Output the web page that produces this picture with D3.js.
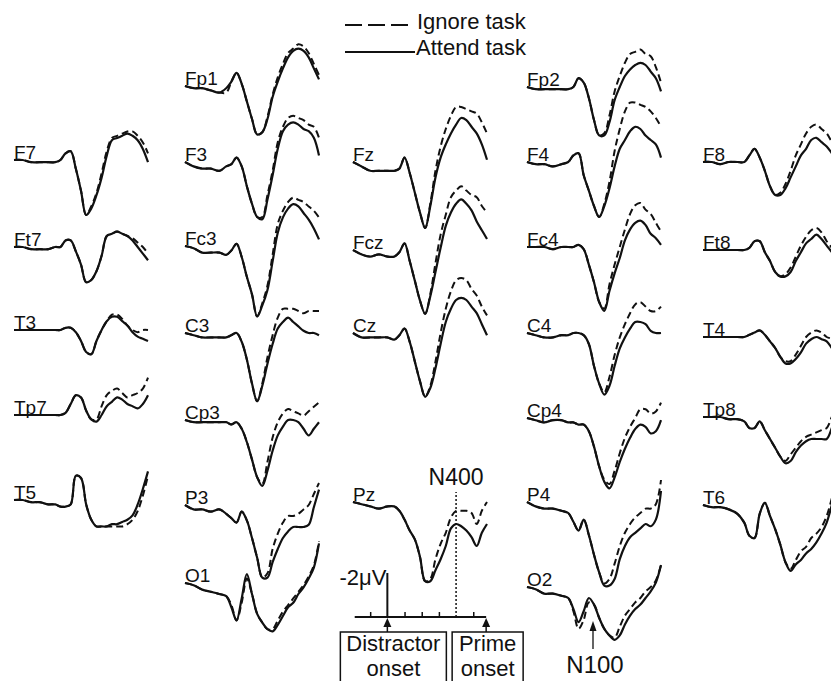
<!DOCTYPE html>
<html>
<head>
<meta charset="utf-8">
<script src="https://cdn.jsdelivr.net/npm/d3@7"></script>
<style>
body{margin:0;background:#fff;}
svg text{font-family:"Liberation Sans",Arial,sans-serif;fill:#111;}
</style>
</head>
<body>
<svg id="chart" width="831" height="681"></svg>
<script>
// sample times (ms) shared by every waveform, values in microvolts (negative is plotted up)
const times = [-200,-150,-100,-50,0,40,70,100,130,160,190,220,250,280,310,340,370,400,430,460,490,520,550,580];

// left temporal column
const attendF7  = [0,0,0.1,0.1,0.1,0.1,0,-0.3,-0.4,0.4,1.4,2.5,2.2,1.6,0.8,-0.2,-0.9,-1.0,-1.1,-1.2,-1.1,-0.9,-0.5,0.1];
const ignoreF7  = [0,0,0.1,0.1,0.1,0.1,0,-0.3,-0.4,0.4,1.4,2.5,2.1,1.5,0.6,-0.4,-1.0,-1.1,-1.2,-1.3,-1.3,-1.1,-0.8,-0.3];
const attendFt7 = [0,0,0.1,0.1,0.1,0,0,-0.3,-0.3,0.2,0.8,1.6,1.5,1.1,0.4,-0.5,-0.6,-0.7,-0.6,-0.5,-0.3,0,0.3,0.6];
const ignoreFt7 = [0,0,0.1,0.1,0.1,0,0,-0.3,-0.3,0.2,0.8,1.6,1.5,1.1,0.4,-0.5,-0.6,-0.7,-0.6,-0.5,-0.4,-0.2,0,0.3];
const attendT3  = [0,0,0,0,0,0,0,-0.1,-0.1,0.1,0.5,1.0,1.1,0.5,0,-0.4,-0.6,-0.6,-0.4,-0.2,0.1,0.3,0.4,0.5];
const ignoreT3  = [0,0,0,0,0,0,0,-0.1,-0.1,0.1,0.5,1.0,1.1,0.5,0,-0.4,-0.7,-0.7,-0.5,-0.2,0,0.1,0,0];
const attendTp7 = [0,0,0,0,0,0,0,-0.1,-0.5,-0.9,-0.8,-0.2,0.2,0.3,0,-0.4,-0.6,-0.8,-0.7,-0.5,-0.4,-0.3,-0.5,-0.9];
const ignoreTp7 = [0,0,0,0,0,0,0,-0.1,-0.5,-0.9,-0.8,-0.2,0.2,0.2,-0.4,-0.9,-1.1,-1.2,-1.0,-0.8,-0.9,-1.0,-1.2,-1.7];
const attendT5  = [0,0,0.1,0.1,0.2,0.2,0.3,0.3,0.2,-1.1,-1.0,0.2,0.9,1.2,1.2,1.2,1.1,1.1,1.0,0.9,0.7,0.2,-0.5,-1.3];
const ignoreT5  = [0,0,0.1,0.1,0.2,0.2,0.3,0.3,0.2,-1.1,-1.0,0.2,0.9,1.2,1.2,1.2,1.2,1.2,1.2,1.1,0.9,0.5,-0.2,-1.1];

// left column
const attendFp1 = [0,0.1,0.1,0.2,0.3,0.1,-0.2,-0.6,-0.1,0.7,1.5,2.2,2.1,1.5,0.5,-0.2,-0.8,-1.3,-1.6,-1.7,-1.6,-1.3,-0.8,-0.3];
const ignoreFp1 = [0,0.1,0.1,0.2,0.3,0.3,-0.2,-0.6,-0.1,0.7,1.5,2.2,2.1,1.4,0.4,-0.4,-1.0,-1.5,-1.7,-1.9,-1.8,-1.5,-1.0,-0.5];
const attendF3  = [0,0.2,0.3,0.3,0.4,0.2,0.1,-0.2,0.2,1.1,1.9,2.5,2.6,1.7,0.6,-0.6,-1.4,-1.7,-1.8,-1.7,-1.5,-1.4,-1.1,-0.3];
const ignoreF3  = [0,0.2,0.3,0.3,0.4,0.2,0.1,-0.2,0.2,1.1,1.9,2.5,2.5,1.5,0.4,-0.9,-1.6,-2.0,-2.1,-2.0,-1.9,-1.7,-1.6,-1.1];
const attendFc3 = [0,0.1,0.3,0.3,0.3,0.4,0.2,-0.1,0.5,1.4,2.2,3.2,2.7,2.0,0.7,-0.6,-1.3,-1.7,-1.9,-1.8,-1.5,-1.2,-0.8,-0.3];
const ignoreFc3 = [0,0.1,0.3,0.3,0.3,0.4,0.2,-0.1,0.5,1.4,2.2,3.2,2.6,1.8,0.4,-1.0,-1.6,-2.0,-2.2,-2.1,-2.0,-1.8,-1.6,-1.3];
const attendC3  = [0,0.1,0.2,0.2,0.2,0.2,0.1,0,0.4,1.2,2.3,3.1,2.4,1.4,0.5,-0.2,-0.5,-0.7,-0.5,-0.3,-0.1,0,0,0.1];
const ignoreC3  = [0,0.1,0.2,0.2,0.2,0.2,0.1,0,0.4,1.2,2.3,3.1,2.3,1.1,0.1,-0.7,-1.1,-1.1,-1.1,-1.0,-0.9,-1.0,-1.0,-1.0];
const attendCp3 = [0,0.1,0.1,0.1,0.1,0.1,0.2,0.1,0.4,1.0,1.8,2.6,3.0,2.3,1.4,0.7,0.3,0,0,0.1,0.4,0.7,0.4,0.1];
const ignoreCp3 = [0,0.1,0.1,0.1,0.1,0.1,0.2,0.1,0.4,1.0,1.8,2.6,2.9,1.9,0.8,0.1,-0.3,-0.5,-0.4,-0.3,-0.2,-0.4,-0.6,-0.8];
const attendP3  = [0,0.2,0.2,0.3,0.2,0.4,0.6,0.8,0.3,0.7,1.5,2.4,3.3,3.3,2.6,2.0,1.5,1.2,1.0,1.0,1.0,0.9,0.1,-0.7];
const ignoreP3  = [0,0.2,0.2,0.3,0.2,0.4,0.6,0.8,0.3,0.7,1.5,2.4,3.3,3.1,2.0,1.3,0.8,0.5,0.5,0.4,0.2,0,-0.5,-1.0];
const attendO1  = [0,0.1,0.3,0.4,0.5,0.6,1.1,1.7,0.7,-0.4,0.5,1.4,1.8,2.1,2.2,1.9,1.5,1.1,0.9,0.5,0.2,-0.2,-0.7,-1.8];
const ignoreO1  = [0,0.1,0.3,0.4,0.5,0.6,1.0,1.7,0.9,-0.2,0.5,1.4,1.8,2.1,2.1,1.7,1.3,1.0,0.7,0.4,0.1,-0.3,-0.8,-1.9];

// midline
const attendFz  = [0,0.2,0.4,0.4,0.4,0.4,0.3,-0.2,0.5,1.4,2.3,3.0,2.0,0.7,-0.2,-0.8,-1.3,-1.7,-2.0,-1.9,-1.6,-1.3,-0.8,-0.1];
const ignoreFz  = [0,0.2,0.4,0.4,0.4,0.4,0.3,-0.2,0.5,1.4,2.3,3.0,1.9,0.4,-0.7,-1.5,-2.1,-2.5,-2.5,-2.4,-2.3,-2.2,-1.8,-1.3];
const attendFcz = [0,0.2,0.3,0.2,0.3,0.3,0.1,-0.3,0.5,1.4,2.3,2.9,2.1,1.0,-0.1,-1.1,-1.7,-2.1,-2.3,-2.1,-1.8,-1.3,-0.9,-0.5];
const ignoreFcz = [0,0.2,0.3,0.2,0.3,0.3,0.1,-0.3,0.5,1.4,2.3,2.9,2.0,0.6,-0.7,-1.6,-2.4,-2.7,-2.9,-2.7,-2.5,-2.4,-2.0,-1.7];
const attendCz  = [0,0.2,0.2,0.2,0.2,0.3,0.1,-0.2,0.4,1.3,2.2,2.9,2.5,1.6,0.5,-0.5,-1.1,-1.5,-1.6,-1.5,-1.2,-0.9,-0.4,0.1];
const ignoreCz  = [0,0.2,0.2,0.2,0.2,0.3,0.1,-0.2,0.4,1.3,2.2,2.9,2.4,1.3,0,-1.1,-1.9,-2.4,-2.5,-2.4,-2.0,-1.7,-1.2,-0.8];
const attendPz  = [0,0.1,0.2,0.3,0.2,0.2,0.4,0.8,1.3,1.7,2.5,3.6,3.6,3.1,2.6,2.0,1.2,1.0,1.1,1.3,1.6,2.0,1.4,1.0];
const ignorePz  = [0,0.1,0.2,0.3,0.2,0.2,0.4,0.8,1.3,1.7,2.5,3.6,3.5,2.6,1.9,1.4,0.7,0.4,0.4,0.4,0.5,1.0,0.4,0];

// right column
const attendFp2 = [0,0.1,0.1,0.1,0.1,0.1,0,-0.4,-0.2,0.5,1.5,2.2,2.2,1.6,0.6,0,-0.5,-0.8,-1.0,-1.1,-1.0,-0.7,-0.4,0.2];
const ignoreFp2 = [0,0.1,0.1,0.1,0.1,0.1,0,-0.4,-0.2,0.5,1.5,2.2,2.1,1.3,0.2,-0.5,-1.1,-1.5,-1.6,-1.7,-1.5,-1.4,-0.9,-0.2];
const attendF4  = [0,0.1,0.1,0.2,0.1,0,-0.3,-0.4,0.6,1.3,2.0,2.5,2.0,1.2,0.2,-0.6,-1.0,-1.4,-1.6,-1.5,-1.2,-1.0,-0.8,-0.2];
const ignoreF4  = [0,0.1,0.1,0.2,0.1,0,-0.3,-0.4,0.6,1.3,2.0,2.5,1.9,0.9,-0.5,-1.5,-2.3,-2.7,-2.7,-2.6,-2.5,-2.3,-2.0,-1.6];
const attendFc4 = [0,0,0,0.1,0,0,0,-0.1,0.1,0.8,1.6,2.5,2.9,2.0,1.2,0.5,-0.3,-0.8,-1.1,-1.2,-1.0,-0.6,-0.4,-0.1];
const ignoreFc4 = [0,0,0,0.1,0,0,0,-0.1,0.1,0.8,1.6,2.5,2.8,1.7,0.8,0,-0.8,-1.5,-1.9,-2.0,-1.7,-1.5,-1.1,-0.7];
const attendC4  = [0,0.1,0.2,0.2,0.1,0.1,0,0,0.1,0.5,1.5,2.3,2.8,2.4,1.5,0.7,0.2,-0.2,-0.5,-0.5,-0.4,-0.1,0,0];
const ignoreC4  = [0,0.1,0.2,0.2,0.1,0.1,0,0,0.1,0.5,1.5,2.3,2.7,2.0,1.0,0.2,-0.4,-0.9,-1.3,-1.4,-1.2,-1.0,-1.0,-1.2];
const attendCp4 = [0,0.1,0.2,0.1,0.1,0.2,0.2,0.3,0.3,0.6,1.3,2.2,2.9,3.2,2.7,2.0,1.4,0.9,0.5,0.3,0.4,0.7,0.6,0.1];
const ignoreCp4 = [0,0.1,0.2,0.1,0.1,0.2,0.2,0.3,0.3,0.6,1.3,2.2,2.8,3.0,2.4,1.6,0.9,0.4,0,-0.4,-0.4,-0.2,-0.3,-0.7];
const attendP4  = [0,0.2,0.3,0.3,0.4,0.5,0.9,1.3,0.8,1.5,2.4,3.2,3.8,3.8,3.5,2.6,2.0,1.6,1.4,1.2,1.0,1.1,0.8,-0.5];
const ignoreP4  = [0,0.2,0.3,0.3,0.4,0.5,0.9,1.3,0.8,1.5,2.4,3.2,3.7,3.5,2.8,2.0,1.4,1.0,0.7,0.5,0.3,0.3,0.1,-1.0];
const attendO2  = [0,0.1,0.3,0.3,0.4,0.5,1.0,1.6,1.1,0.5,0.8,1.4,1.9,2.2,2.4,2.2,1.7,1.3,1.0,0.8,0.5,0.2,-0.2,-1.0];
const ignoreO2  = [0,0.1,0.3,0.3,0.4,0.5,1.1,1.9,1.5,0.7,0.8,1.4,1.9,2.2,2.3,1.8,1.3,1.0,0.7,0.5,0.2,0,-0.3,-1.0];

// right temporal column
const attendF8  = [0,0,0.1,0,0,0,-0.3,-0.6,-0.2,0.4,1.1,1.5,1.5,1.2,0.7,0.2,-0.3,-0.6,-1.0,-1.1,-0.9,-0.7,-0.4,-0.1];
const ignoreF8  = [0,0,0.1,0,0,0,-0.3,-0.6,-0.2,0.4,1.1,1.5,1.4,1.0,0.4,-0.3,-0.8,-1.3,-1.6,-1.7,-1.5,-1.3,-0.9,-0.5];
const attendFt8 = [0,0,0,0,0,0,-0.1,-0.4,-0.4,0.1,0.5,1.0,1.2,1.2,1.0,0.5,0.1,-0.3,-0.5,-0.7,-0.5,-0.2,0.1,0.5];
const ignoreFt8 = [0,0,0,0,0,0,-0.1,-0.4,-0.4,0.1,0.5,1.0,1.2,1.1,0.8,0.3,-0.2,-0.6,-0.9,-1.0,-0.8,-0.4,-0.1,0.3];
const attendT4  = [0,0,0,0,0,0,-0.1,-0.2,-0.3,-0.1,0.2,0.5,0.9,1.2,1.2,1.0,0.7,0.3,0.1,0,0.1,0.2,0.5,0.8];
const ignoreT4  = [0,0,0,0,0,0,-0.1,-0.2,-0.3,-0.1,0.2,0.5,0.9,1.1,1.1,0.8,0.4,0,-0.2,-0.3,-0.2,0,0.1,0.5];
const attendTp8 = [0,0,0,0.1,0.1,0.2,0.5,0.5,0.2,0.6,1.0,1.4,1.8,2.1,2.0,1.6,1.3,1.1,1.0,1.0,1.0,1.0,0.5,-0.2];
const ignoreTp8 = [0,0,0,0.1,0.1,0.2,0.5,0.5,0.2,0.6,1.0,1.4,1.8,2.0,1.7,1.4,1.1,0.9,0.8,0.7,0.6,0.5,0,-0.5];
const attendT6  = [0,0.1,0.1,0.2,0.4,0.8,1.4,1.5,0.4,-0.1,0.5,1.1,1.8,2.6,3.0,2.7,2.5,2.2,2.0,1.7,1.3,0.8,0,-0.9];
const ignoreT6  = [0,0.1,0.1,0.2,0.4,0.8,1.4,1.5,0.4,-0.1,0.5,1.1,1.8,2.6,2.9,2.5,2.1,1.9,1.5,1.3,1.0,0.5,-0.3,-1.1];

// scale bar / time axis
const axisTicks = [-100,100,200,300,500];
const distractorOnset = 0;
const primeOnset = 575;
const n400Time = 400;
const scaleBarUV = 2;

// where each electrode sits on the page (x of t=-200, y of 0 uV)
const panels = [
  {name:"F7",  x:14,  y:160, a:attendF7,  i:ignoreF7},
  {name:"Ft7", x:14,  y:247, a:attendFt7, i:ignoreFt7},
  {name:"T3",  x:14,  y:330, a:attendT3,  i:ignoreT3},
  {name:"Tp7", x:14,  y:415, a:attendTp7, i:ignoreTp7},
  {name:"T5",  x:14,  y:500, a:attendT5,  i:ignoreT5},
  {name:"Fp1", x:185, y:86,  a:attendFp1, i:ignoreFp1},
  {name:"F3",  x:185, y:162, a:attendF3,  i:ignoreF3},
  {name:"Fc3", x:185, y:246, a:attendFc3, i:ignoreFc3},
  {name:"C3",  x:185, y:333, a:attendC3,  i:ignoreC3},
  {name:"Cp3", x:185, y:420, a:attendCp3, i:ignoreCp3},
  {name:"P3",  x:185, y:505, a:attendP3,  i:ignoreP3},
  {name:"O1",  x:185, y:583, a:attendO1,  i:ignoreO1},
  {name:"Fz",  x:353, y:162, a:attendFz,  i:ignoreFz},
  {name:"Fcz", x:353, y:250, a:attendFcz, i:ignoreFcz},
  {name:"Cz",  x:353, y:333, a:attendCz,  i:ignoreCz},
  {name:"Pz",  x:353, y:502, a:attendPz,  i:ignorePz},
  {name:"Fp2", x:527, y:87,  a:attendFp2, i:ignoreFp2},
  {name:"F4",  x:527, y:162, a:attendF4,  i:ignoreF4},
  {name:"Fc4", x:527, y:247, a:attendFc4, i:ignoreFc4},
  {name:"C4",  x:527, y:333, a:attendC4,  i:ignoreC4},
  {name:"Cp4", x:527, y:418, a:attendCp4, i:ignoreCp4},
  {name:"P4",  x:527, y:502, a:attendP4,  i:ignoreP4},
  {name:"O2",  x:527, y:587, a:attendO2,  i:ignoreO2},
  {name:"F8",  x:703, y:162, a:attendF8,  i:ignoreF8},
  {name:"Ft8", x:703, y:250, a:attendFt8, i:ignoreFt8},
  {name:"T4",  x:703, y:337, a:attendT4,  i:ignoreT4},
  {name:"Tp8", x:703, y:417, a:attendTp8, i:ignoreTp8},
  {name:"T6",  x:703, y:505, a:attendT6,  i:ignoreT6}
];

const svg = d3.select("#chart");

const xScale = d3.scaleLinear().domain([-200, 580]).range([0, 134]);
// negative up: positive uV goes down the page
const yScale = d3.scaleLinear().domain([0, 1]).range([0, 22]);

const line = d3.line()
  .x(d => xScale(d[0]))
  .y(d => yScale(d[1]))
  .curve(d3.curveCatmullRom.alpha(0.5));

panels.forEach(p => {
  const g = svg.append("g").attr("transform", "translate(" + p.x + "," + p.y + ")");
  g.append("text")
    .attr("x", 0).attr("y", -1)
    .attr("font-size", 19)
    .text(p.name);
  g.append("path")
    .attr("d", line(d3.zip(times, p.i)))
    .attr("fill", "none").attr("stroke", "#111")
    .attr("stroke-width", 2).attr("stroke-dasharray", "7,4");
  g.append("path")
    .attr("d", line(d3.zip(times, p.a)))
    .attr("fill", "none").attr("stroke", "#111")
    .attr("stroke-width", 2.2);
});

// legend
const legend = svg.append("g");
legend.append("line").attr("x1", 345).attr("x2", 408).attr("y1", 25).attr("y2", 25)
  .attr("stroke", "#111").attr("stroke-width", 2).attr("stroke-dasharray", "17,6");
legend.append("text").attr("x", 417).attr("y", 29).attr("font-size", 22).text("Ignore task");
legend.append("line").attr("x1", 345).attr("x2", 415).attr("y1", 52).attr("y2", 52)
  .attr("stroke", "#111").attr("stroke-width", 2);
legend.append("text").attr("x", 416).attr("y", 55).attr("font-size", 22).text("Attend task");

// time axis under Pz
const axisY = 617;
const ax = svg.append("g").attr("transform", "translate(353," + axisY + ")");
ax.append("line").attr("x1", xScale(-190)).attr("x2", xScale(primeOnset))
  .attr("stroke", "#111").attr("stroke-width", 2);
const tickAxis = d3.axisTop(xScale).tickValues(axisTicks).tickSize(5).tickFormat("");
ax.append("g").call(tickAxis)
  .call(s => s.select(".domain").remove())
  .selectAll("line").attr("stroke", "#111").attr("stroke-width", 1.5);

// -2 uV bar at distractor onset
const x0 = xScale(distractorOnset);
ax.append("line").attr("x1", x0).attr("x2", x0).attr("y1", 0).attr("y2", -yScale(scaleBarUV))
  .attr("stroke", "#111").attr("stroke-width", 2);
ax.append("text").attr("x", x0 - 1).attr("y", -yScale(scaleBarUV) + 12)
  .attr("text-anchor", "end").attr("font-size", 22).text("-2\u03BCV");

// N400 dotted marker
const xn = xScale(n400Time);
ax.append("line").attr("x1", xn).attr("x2", xn).attr("y1", 0).attr("y2", -125)
  .attr("stroke", "#111").attr("stroke-width", 1.5).attr("stroke-dasharray", "2,2");
ax.append("text").attr("x", xn).attr("y", -132).attr("text-anchor", "middle")
  .attr("font-size", 23).text("N400");

// onset arrows and boxes
[[distractorOnset, "Distractor", -47, 59], [primeOnset, "Prime", -34, 37]].forEach(([t, lab, l, r]) => {
  const xa = xScale(t);
  ax.append("path").attr("d", "M" + xa + ",1 L" + (xa - 4) + ",10 L" + (xa + 4) + ",10 Z").attr("fill", "#111");
  ax.append("line").attr("x1", xa).attr("x2", xa).attr("y1", 10).attr("y2", 15)
    .attr("stroke", "#111").attr("stroke-width", 1.5);
  ax.append("path")
    .attr("d", "M" + (xa + l) + ",70 V15 H" + (xa + r) + " V70")
    .attr("fill", "none").attr("stroke", "#111").attr("stroke-width", 1.5);
  const cx = xa + (l + r) / 2;
  ax.append("text").attr("x", cx).attr("y", 34).attr("text-anchor", "middle")
    .attr("font-size", 22).text(lab);
  ax.append("text").attr("x", cx).attr("y", 59).attr("text-anchor", "middle")
    .attr("font-size", 22).text("onset");
});

// N100 pointer under O2
const n100 = svg.append("g").attr("transform", "translate(593,0)");
n100.append("line").attr("x1", 0).attr("x2", 0).attr("y1", 630).attr("y2", 649)
  .attr("stroke", "#111").attr("stroke-width", 1.3);
n100.append("path").attr("d", "M0,621 L-3.5,631 L3.5,631 Z").attr("fill", "#111");
n100.append("text").attr("x", 2).attr("y", 673).attr("text-anchor", "middle")
  .attr("font-size", 24).text("N100");
</script>
</body>
</html>
